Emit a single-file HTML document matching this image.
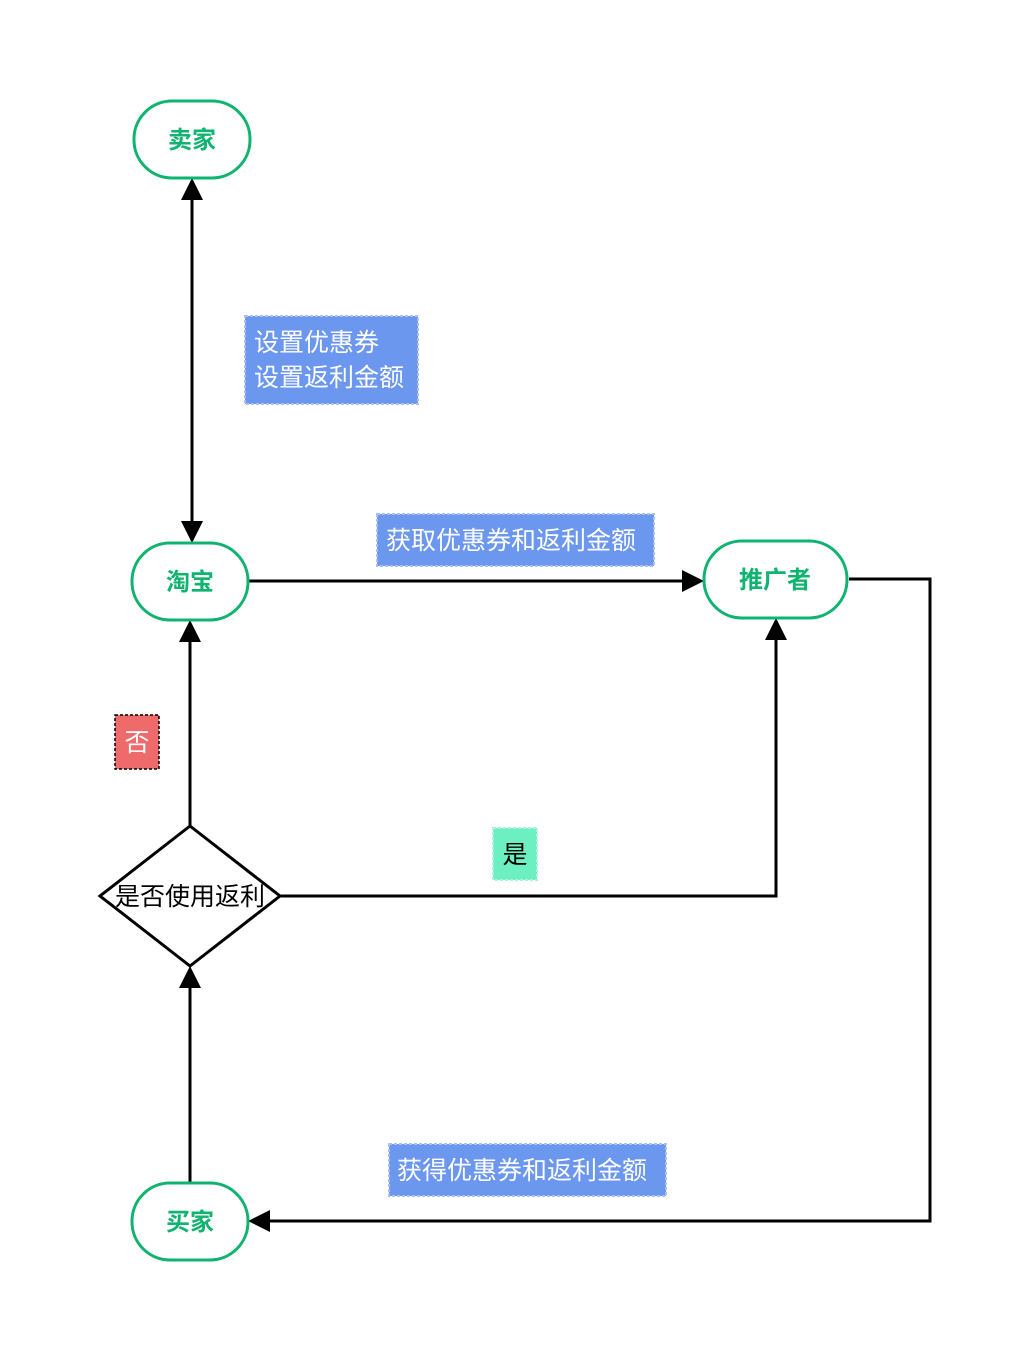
<!DOCTYPE html>
<html><head><meta charset="utf-8"><style>
html,body{margin:0;padding:0;background:#fff;}
svg{display:block;}
text{font-family:"Liberation Sans","Noto Sans CJK SC",sans-serif;}
</style></head><body>
<svg width="1030" height="1362" viewBox="0 0 1030 1362" xmlns="http://www.w3.org/2000/svg">
<g stroke="#000" stroke-width="3" fill="none">
<line x1="192" y1="198" x2="192" y2="524"/>
<line x1="248" y1="581" x2="684" y2="581"/>
<polyline points="849,579 930,579 930,1221 270,1221"/>
<line x1="190" y1="826" x2="190" y2="640"/>
<line x1="190" y1="1183" x2="190" y2="986"/>
<polyline points="280,896 776,896 776,638"/>
</g>
<g fill="#000">
<polygon points="192,178 181,200 203,200"/>
<polygon points="192,543 181,521 203,521"/>
<polygon points="704,581 682,570 682,592"/>
<polygon points="248,1221 270,1210 270,1232"/>
<polygon points="190,620 179,642 201,642"/>
<polygon points="190,966 179,988 201,988"/>
<polygon points="776,618 765,640 787,640"/>
</g>
<g fill="#fff" stroke="#10b36f" stroke-width="3">
<rect x="134" y="101" width="116" height="77" rx="38"/>
<rect x="132" y="543" width="116" height="77" rx="38"/>
<rect x="704" y="541" width="143" height="77" rx="38"/>
<rect x="132" y="1183" width="116" height="77" rx="38"/>
</g>
<g fill="#10b36f" font-weight="bold" font-size="24" text-anchor="middle">
<text x="192" y="148">卖家</text>
<text x="190" y="590">淘宝</text>
<text x="775" y="588">推广者</text>
<text x="190" y="1230">买家</text>
</g>
<polygon points="190,826 280,896 190,966 100,896" fill="#fff" stroke="#000" stroke-width="3"/>
<text x="190" y="905" font-size="25" text-anchor="middle" fill="#000">是否使用返利</text>
<g stroke="#a9c0f7" stroke-width="2" stroke-dasharray="3,2" fill="#6c97ee">
<rect x="245" y="316" width="173" height="88"/>
<rect x="377" y="514" width="277" height="52"/>
<rect x="389" y="1144" width="277" height="52"/>
</g>
<g fill="#fff" font-size="25">
<text x="254" y="351">设置优惠券</text>
<text x="254" y="386">设置返利金额</text>
<text x="386" y="549">获取优惠券和返利金额</text>
<text x="397" y="1179">获得优惠券和返利金额</text>
</g>
<rect x="115" y="715" width="44" height="54" fill="#ef6b6b" stroke="#000" stroke-width="1.5" stroke-dasharray="3,2"/>
<text x="137" y="751" font-size="25" fill="#fff" text-anchor="middle">否</text>
<rect x="493" y="828" width="44" height="52" fill="#6cf0c2" stroke="#a8f5dc" stroke-width="2" stroke-dasharray="3,2"/>
<text x="515" y="863" font-size="25" fill="#000" text-anchor="middle">是</text>
</svg>
</body></html>
